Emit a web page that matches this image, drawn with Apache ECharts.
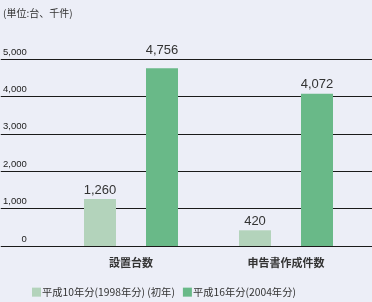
<!DOCTYPE html>
<html><head><meta charset="utf-8">
<script src="https://cdn.jsdelivr.net/npm/echarts@6/dist/echarts.min.js"></script>
<style>html,body{margin:0;padding:0;background:#eceef7;}#c{width:372px;height:302px;}</style>
</head><body><div id="c"></div>
<script>
const categories = ['設置台数', '申告書作成件数'];
const seriesNames = ['平成10年分(1998年分) (初年)', '平成16年分(2004年分)'];
const values1998 = [1260, 420];
const values2004 = [4756, 4072];
const yTicks = [0, 1000, 2000, 3000, 4000, 5000];

const font = '"Noto Sans CJK JP", "Liberation Sans", sans-serif';
const chart = echarts.init(document.getElementById('c'));
const labelFmt = p => p.value.toLocaleString('en-US');
chart.setOption({
  backgroundColor: '#eceef7',
  animation: false,
  title: {
    text: '(単位:台、千件)', left: -2, top: 3,
    textStyle: { fontSize: 10, fontWeight: 'normal', color: '#333', fontFamily: font }
  },
  legend: {
    left: 27, top: 282, itemWidth: 9, itemHeight: 9, itemGap: 8,
    icon: 'rect',
    textStyle: { fontSize: 10.3, color: '#333', fontFamily: font, padding: [0, 0, 0, -4] },
    data: seriesNames
  },
  grid: [
    { left: 0, right: 0, top: 59, bottom: 56 },
    { left: 53.5, right: 8.5, top: 59, bottom: 56 }
  ],
  xAxis: [
    { type: 'category', gridIndex: 0, data: [''], show: false },
    {
      type: 'category', gridIndex: 1, data: categories,
      axisLine: { show: false }, axisTick: { show: false },
      axisLabel: { fontSize: 11, fontWeight: 'bold', color: '#333', fontFamily: font, margin: 11 }
    }
  ],
  yAxis: [
    {
      type: 'value', gridIndex: 0, min: yTicks[0], max: yTicks[yTicks.length - 1], interval: 1000,
      axisLine: { show: false }, axisTick: { show: false },
      splitLine: { lineStyle: { color: '#1a1a1a', width: 1 } },
      axisLabel: {
        inside: true, margin: 26, align: 'right', verticalAlign: 'bottom',
        padding: [0, 0, 2, 0], fontSize: 9.5, color: '#222', fontFamily: '"Liberation Sans", sans-serif',
        formatter: v => v.toLocaleString('en-US')
      }
    },
    {
      type: 'value', gridIndex: 1, min: yTicks[0], max: yTicks[yTicks.length - 1], interval: 1000,
      show: false
    }
  ],
  series: [
    {
      name: seriesNames[0], type: 'bar', xAxisIndex: 1, yAxisIndex: 1,
      data: values1998, barWidth: 32, barGap: '93.75%',
      itemStyle: { color: '#b3d3bb' },
      label: { show: true, position: 'top', distance: 2, fontSize: 13, color: '#333',
               fontFamily: '"Liberation Sans", sans-serif', formatter: labelFmt }
    },
    {
      name: seriesNames[1], type: 'bar', xAxisIndex: 1, yAxisIndex: 1,
      data: values2004.map((v, i) => i === 0 ? { value: v, label: { distance: 11 } } : v),
      barWidth: 32,
      itemStyle: { color: '#69b988' },
      label: { show: true, position: 'top', distance: 3, fontSize: 13, color: '#333',
               fontFamily: '"Liberation Sans", sans-serif', formatter: labelFmt }
    }
  ]
});
</script></body></html>
